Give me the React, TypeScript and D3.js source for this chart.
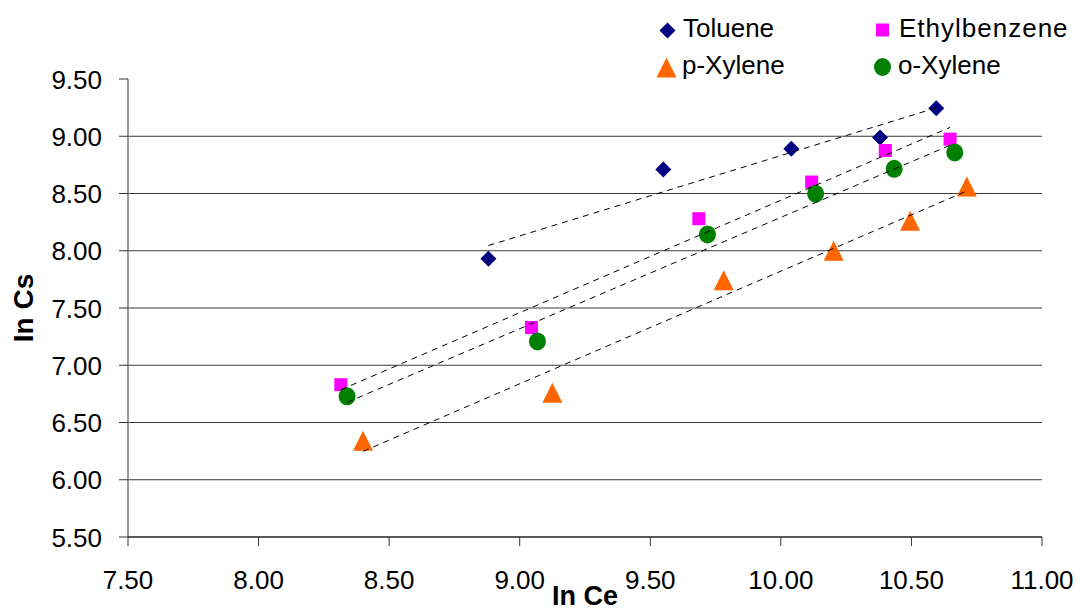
import React from "react";
import * as d3 from "d3";

// ln Ce / ln Cs values
const tolueneX = [8.88, 9.55, 10.04, 10.38, 10.595];
const tolueneY = [7.93, 8.71, 8.89, 8.99, 9.245];
const ethylX = [8.315, 9.045, 9.686, 10.118, 10.40, 10.648];
const ethylY = [6.83, 7.33, 8.28, 8.60, 8.875, 8.975];
const pxylX = [8.40, 9.125, 9.781, 10.202, 10.495, 10.712];
const pxylY = [6.34, 6.76, 7.742, 8.0, 8.263, 8.561];
const oxylX = [8.339, 9.068, 9.719, 10.133, 10.434, 10.666];
const oxylY = [6.729, 7.208, 8.143, 8.498, 8.716, 8.858];

const xTicks = [7.5, 8, 8.5, 9, 9.5, 10, 10.5, 11];
const yTicks = [5.5, 6, 6.5, 7, 7.5, 8, 8.5, 9, 9.5];

type Series = { name: string; xs: number[]; ys: number[]; color: string; shape: string };

const series: Series[] = [
  { name: "Toluene", xs: tolueneX, ys: tolueneY, color: "#000080", shape: "diamond" },
  { name: "Ethylbenzene", xs: ethylX, ys: ethylY, color: "#FF00FF", shape: "square" },
  { name: "p-Xylene", xs: pxylX, ys: pxylY, color: "#FF6600", shape: "triangle" },
  { name: "o-Xylene", xs: oxylX, ys: oxylY, color: "#008000", shape: "circle" },
];

const font = "'Liberation Sans', Arial, sans-serif";

function fit(xs: number[], ys: number[]) {
  const mx = d3.mean(xs)!;
  const my = d3.mean(ys)!;
  let sxy = 0;
  let sxx = 0;
  xs.forEach((x, i) => {
    sxy += (x - mx) * (ys[i] - my);
    sxx += (x - mx) * (x - mx);
  });
  const b = sxy / sxx;
  return { b, a: my - b * mx };
}

function Marker({ shape, cx, cy, color }: { shape: string; cx: number; cy: number; color: string }) {
  if (shape === "diamond") {
    const r = 8;
    return <path d={`M${cx},${cy - r}L${cx + r},${cy}L${cx},${cy + r}L${cx - r},${cy}Z`} fill={color} />;
  }
  if (shape === "square") {
    return <rect x={cx - 6.5} y={cy - 6.5} width={13} height={13} fill={color} />;
  }
  if (shape === "triangle") {
    return <path d={`M${cx},${cy - 10}L${cx + 10},${cy + 10}L${cx - 10},${cy + 10}Z`} fill={color} />;
  }
  return <ellipse cx={cx} cy={cy} rx={8.5} ry={9} fill={color} />;
}

export default function App() {
  const width = 1081;
  const height = 612;
  const x = d3.scaleLinear().domain([7.5, 11]).range([128, 1042]);
  const y = d3.scaleLinear().domain([5.5, 9.5]).range([537, 79]);

  const legendPos = [
    { mx: 667.5, my: 30.5, tx: 683, ty: 37 },
    { mx: 882.5, my: 30, tx: 899, ty: 37 },
    { mx: 666.5, my: 67.5, tx: 682, ty: 74 },
    { mx: 882.5, my: 67, tx: 898, ty: 74 },
  ];

  return (
    <svg width={width} height={height} style={{ position: "absolute", left: 0, top: 0, background: "#fff" }}>
      {/* gridlines */}
      {yTicks.slice(1, -1).map((t) => (
        <line key={t} x1={x(7.5)} x2={x(11)} y1={y(t)} y2={y(t)} stroke="#3a3a3a" strokeWidth={1.2} />
      ))}
      {/* axes */}
      <line x1={x(7.5)} x2={x(7.5)} y1={y(9.5)} y2={y(5.5)} stroke="#777" strokeWidth={1.5} />
      <line x1={x(7.5)} x2={x(11)} y1={y(5.5)} y2={y(5.5)} stroke="#222" strokeWidth={1.3} />
      {yTicks.map((t) => (
        <g key={t}>
          <line x1={x(7.5) - 9} x2={x(7.5)} y1={y(t)} y2={y(t)} stroke="#333" strokeWidth={1} />
          <text x={102} y={y(t) + 9.5} textAnchor="end" fontFamily={font} fontSize={26} fill="#000">
            {t.toFixed(2)}
          </text>
        </g>
      ))}
      {xTicks.map((t) => (
        <g key={t}>
          <line x1={x(t)} x2={x(t)} y1={y(5.5)} y2={y(5.5) + 9} stroke="#333" strokeWidth={1} />
          <text x={x(t)} y={589} textAnchor="middle" fontFamily={font} fontSize={26} fill="#000">
            {t.toFixed(2)}
          </text>
        </g>
      ))}
      <text x={(x(7.5) + x(11)) / 2} y={605} textAnchor="middle" fontFamily={font} fontSize={27} fontWeight="bold">
        In Ce
      </text>
      <text
        transform={`translate(33,${(y(9.5) + y(5.5)) / 2}) rotate(-90)`}
        textAnchor="middle"
        fontFamily={font}
        fontSize={28}
        fontWeight="bold"
      >
        In Cs
      </text>
      {/* markers */}
      {series.map((s) =>
        s.xs.map((v, i) => (
          <Marker key={s.name + i} shape={s.shape} cx={x(v)} cy={y(s.ys[i])} color={s.color} />
        ))
      )}
      {/* linear trendlines */}
      {series.map((s) => {
        const { a, b } = fit(s.xs, s.ys);
        const x0 = d3.min(s.xs)!;
        const x1 = d3.max(s.xs)!;
        return (
          <line
            key={s.name + "-fit"}
            x1={x(x0)}
            y1={y(a + b * x0)}
            x2={x(x1)}
            y2={y(a + b * x1)}
            stroke="#000"
            strokeWidth={1}
            strokeDasharray="6,5"
          />
        );
      })}
      {/* legend */}
      {series.map((s, i) => {
        const p = legendPos[i];
        return (
          <g key={s.name + "-leg"}>
            <Marker shape={s.shape} cx={p.mx} cy={p.my} color={s.color} />
            <text
              x={p.tx}
              y={p.ty}
              fontFamily={font}
              fontSize={26}
              letterSpacing={s.name === "Ethylbenzene" ? 1 : 0}
              fill="#000"
            >
              {s.name}
            </text>
          </g>
        );
      })}
    </svg>
  );
}
